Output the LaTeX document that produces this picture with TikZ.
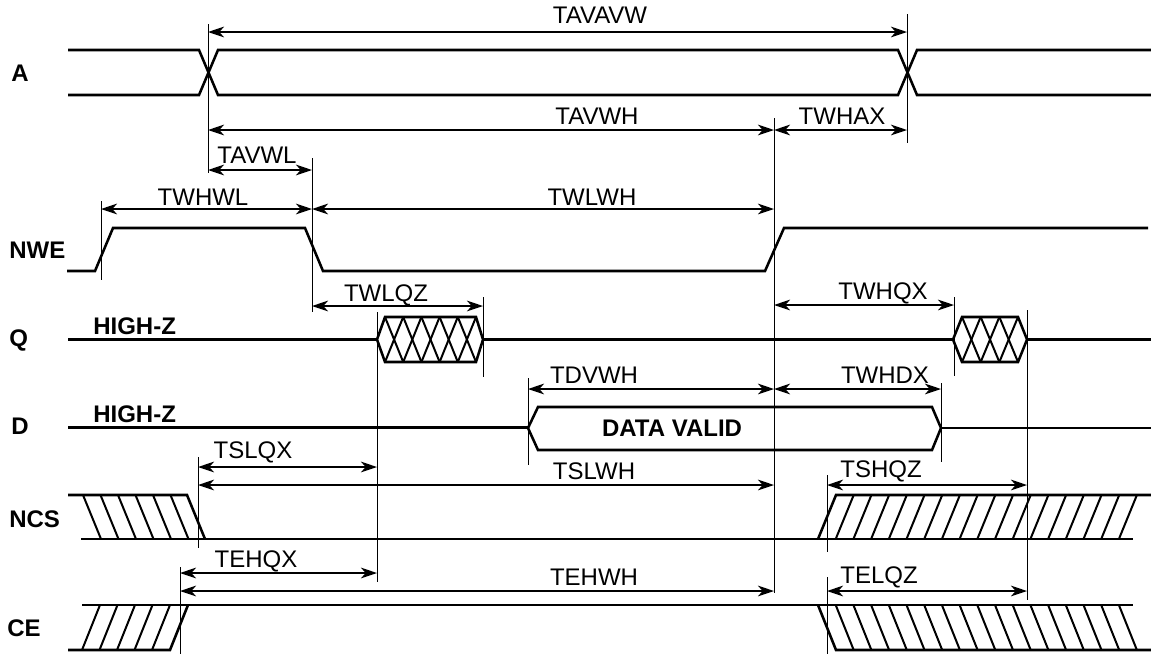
\documentclass[tikz,border=0pt]{standalone}
\usepackage{fontspec}
\setmainfont{Liberation Sans}
\usetikzlibrary{arrows.meta}
\newcommand\dimline[5]{%
  \coordinate (#1-l) at (#2,#4);
  \coordinate (#1-r) at (#3,#4);
  \draw[dimarrow] (#1-l) -- (#1-r);
  \node[lbl] (#1-t) at (#5) {\MakeUppercase{#1}};}
\newcommand\tick[4]{%
  \coordinate (#1-a) at (#2,#3);
  \coordinate (#1-b) at (#2,#4);
  \draw[vline] (#1-a) -- (#1-b);}
\begin{document}
\begin{tikzpicture}[x=0.75pt,y=-0.75pt,
  sig/.style={line width=1.9pt, line join=miter},
  hatchln/.style={line width=1.5pt},
  vline/.style={line width=0.6pt},
  dimarrow/.style={line width=1.6pt,
     {Stealth[length=12pt,width=8pt,inset=3.5pt]}-{Stealth[length=12pt,width=8pt,inset=3.5pt]}},
  lbl/.style={anchor=base, inner sep=0pt, font=\fontsize{18}{21}\selectfont},
  signame/.style={anchor=base west, inner sep=0pt, font=\fontsize{18}{21}\selectfont\bfseries}]
\useasboundingbox (0,0) rectangle (1151,654);

% ---------- signal names ----------
\node[signame] (nA) at (11,81) {A};
\node[signame] (nNWE) at (9,258) {NWE};
\node[signame] (nQ) at (9,346) {Q};
\node[signame] (nD) at (11,434) {D};
\node[signame] (nNCS) at (9,527) {NCS};
\node[signame] (nCE) at (7,636) {CE};
\node[signame] (hzq) at (93,334) {HIGH-Z};
\node[signame] (hzd) at (93,422) {HIGH-Z};

% ---------- A ----------
\draw[sig] (68,50) -- (199,50) -- (218,95) -- (898,95) -- (917,50) -- (1151,50);
\draw[sig] (68,95) -- (199,95) -- (218,50) -- (898,50) -- (917,95) -- (1151,95);

% ---------- NWE ----------
\draw[sig] (67,271) -- (95,271) -- (113,228) -- (305,228) -- (323,271)
   -- (765,271) -- (784,228) -- (1148,228);

% ---------- Q ----------
\draw[sig] (68,339.5) -- (377,339.5);
\draw[sig] (377,339.5) -- (385,317) -- (476,317) -- (483,339.5) -- (476,362) -- (385,362) -- cycle;
\foreach \i in {0,...,4}{
  \draw[hatchln] ({385+18.2*\i},317) -- ({385+18.2*(\i+1)},362);
  \draw[hatchln] ({385+18.2*\i},362) -- ({385+18.2*(\i+1)},317);}
\draw[sig] (483,339.5) -- (953,339.5);
\draw[sig] (953,339.5) -- (962,317) -- (1018,317) -- (1027,339.5) -- (1018,362) -- (962,362) -- cycle;
\foreach \i in {0,...,2}{
  \draw[hatchln] ({962+18.67*\i},317) -- ({962+18.67*(\i+1)},362);
  \draw[hatchln] ({962+18.67*\i},362) -- ({962+18.67*(\i+1)},317);}
\draw[sig] (1027,339.5) -- (1151,339.5);

% ---------- D ----------
\draw[sig] (68,427.5) -- (528,427.5);
\draw[sig] (528,428) -- (538,407) -- (932,407) -- (941,428) -- (932,450) -- (538,450) -- cycle;
\draw[sig] (941,428) -- (1151,428);
\node[signame, anchor=base] (dv) at (672,436) {DATA VALID};

% ---------- NCS ----------
\draw[sig] (68,495) -- (187,495) -- (205,539);
\draw[sig] (81,539) -- (1133,539);
\draw[sig] (818,539) -- (836,495) -- (1151,495);
\foreach \i in {0,...,5}{
  \draw[hatchln] ({83+17.5*\i},495) -- ({101+17.5*\i},539);}
\foreach \i in {1,...,17}{
  \draw[hatchln] ({836+17.7*\i},495) -- ({818+17.7*\i},539);}

% ---------- CE ----------
\draw[sig] (68,650) -- (170,650) -- (188,605);
\draw[sig] (82,605) -- (1133,605);
\draw[sig] (818,605) -- (836,650) -- (1151,650);
\foreach \i in {0,...,4}{
  \draw[hatchln] ({82+17.5*\i},650) -- ({100+17.5*\i},605);}
\foreach \i in {1,...,17}{
  \draw[hatchln] ({818+17.7*\i},605) -- ({836+17.7*\i},650);}

% ---------- reference ticks ----------
\tick{v208}{208}{24}{173}
\tick{v907}{907}{14}{143}
\tick{v774}{774}{118}{593}
\tick{v312}{312}{158}{312}
\tick{v101}{101}{201}{280}
\tick{v483}{483}{297}{377}
\tick{v377}{377}{312}{582}
\tick{v954}{954}{297}{376}
\tick{v1027}{1027}{310}{600}
\tick{v528}{528}{378}{465}
\tick{v941}{941}{383}{462}
\tick{v198}{198}{457}{548}
\tick{v827a}{827}{475}{552}
\tick{v180}{180}{567}{654}
\tick{v827b}{827}{577}{654}

% ---------- timing arrows ----------
\dimline{tavavw}{208}{907}{32}{600,23}
\dimline{tavwh}{208}{774}{130}{597,124}
\dimline{twhax}{774}{907}{130}{842,124}
\dimline{tavwl}{208}{312}{170}{257,163}
\dimline{twhwl}{101}{312}{209}{203,205}
\dimline{twlwh}{312}{774}{209}{592,205}
\dimline{twlqz}{312}{483}{306}{386,301}
\dimline{twhqx}{774}{954}{305}{883,299}
\dimline{tdvwh}{528}{774}{389}{594,383}
\dimline{twhdx}{774}{941}{389}{885,383}
\dimline{tslqx}{198}{377}{467}{253,458}
\dimline{tslwh}{198}{774}{485}{594,479}
\dimline{tshqz}{827}{1027}{485}{881,477}
\dimline{tehqx}{180}{377}{573}{256,567}
\dimline{tehwh}{180}{774}{591}{594,585}
\dimline{telqz}{827}{1027}{591}{879,583}
\end{tikzpicture}
\end{document}
